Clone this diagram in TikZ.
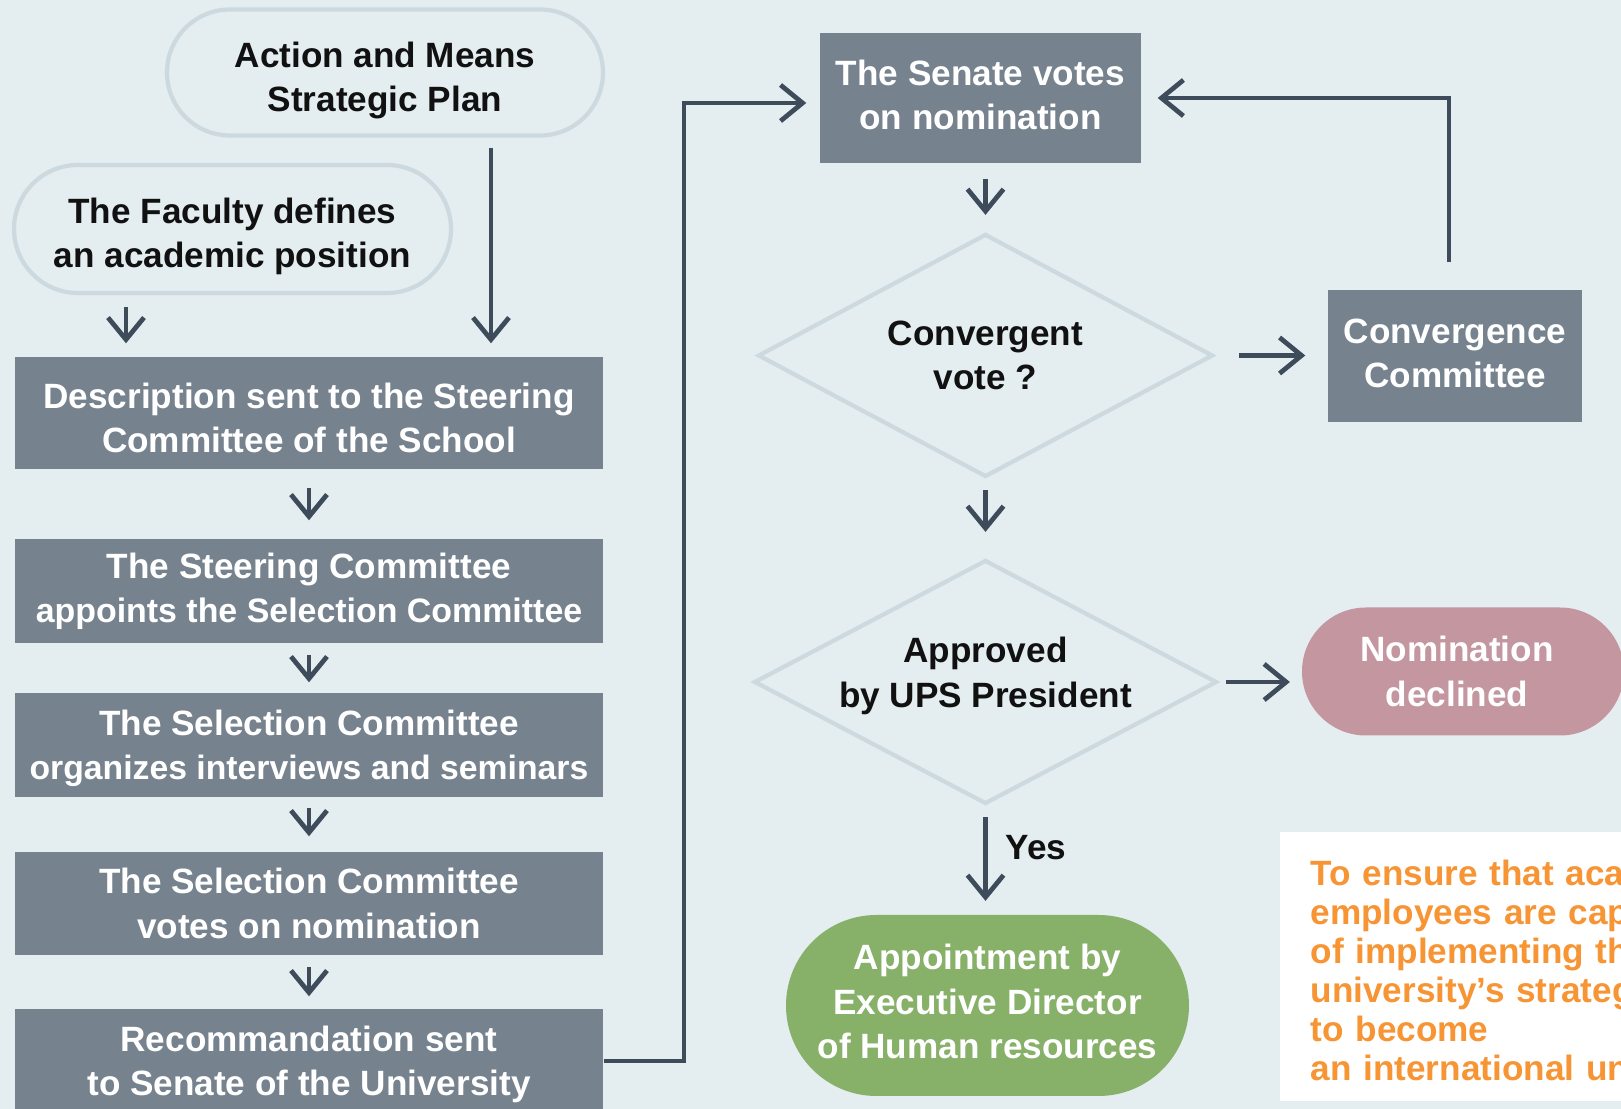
\documentclass[tikz,border=0pt]{standalone}
\usepackage{fontspec}
\setmainfont{Liberation Sans}
\usetikzlibrary{arrows.meta,shapes.geometric,shapes.misc}
\definecolor{bgc}{HTML}{E4EDF0}
\definecolor{boxc}{HTML}{76828E}
\definecolor{edgec}{HTML}{CCDAE0}
\definecolor{arrc}{HTML}{3E4B5B}
\definecolor{inkc}{HTML}{111111}
\definecolor{pinkc}{HTML}{C496A0}
\definecolor{greenc}{HTML}{87B069}
\definecolor{orangec}{HTML}{F79433}

\begin{document}
\begin{tikzpicture}[
        every node/.style={font=\fontsize{10}{12.6}\selectfont\bfseries, align=center},
        box/.style={fill=boxc, text=white, minimum width=5.88cm, minimum height=1.04cm, inner sep=0pt},
        oval/.style={rounded rectangle, draw=edgec, line width=1.2pt, text=inkc, inner sep=0pt},
        test/.style={diamond, aspect=1.9, draw=edgec, line width=1.2pt, text=inkc, inner sep=0pt, minimum width=4.55cm, minimum height=2.43cm},
        arr/.style={draw=arrc, line width=1.35pt, -{Straight Barb[length=0.22cm, width=0.36cm]}}
    ]
        \path[use as bounding box, fill=bgc] (0,0) rectangle (16.21,-11.09);

        \node[oval, minimum width=4.36cm, minimum height=1.26cm] (plan) at (3.85,-0.725) {\rule{0pt}{11.9pt}Action and Means\\Strategic Plan};
        \node[oval, minimum width=4.37cm, minimum height=1.28cm] (faculty) at (2.325,-2.29) {\rule{0pt}{11.3pt}The Faculty defines\\an academic position};

        \node[box, minimum height=1.12cm] (desc) at (3.09,-4.13) {\rule{0pt}{10.1pt}Description sent to the Steering\\Committee of the School};
        \node[box] (steer) at (3.09,-5.91) {The Steering Committee\\{\fontsize{9.65}{12.6}\selectfont appoints the Selection Committee}};
        \node[box] (orga) at (3.09,-7.45) {\rule{0pt}{9pt}The Selection Committee\\{\fontsize{9.6}{12.6}\selectfont organizes interviews and seminars}};
        \node[box, minimum height=1.03cm] (svote) at (3.09,-9.035) {The Selection Committee\\votes on nomination};
        \node[box] (recom) at (3.09,-10.61) {\rule{0pt}{9pt}Recommandation sent\\to Senate of the University};

        \node[box, minimum width=3.21cm, minimum height=1.30cm] (senate) at (9.805,-0.98) {The Senate votes\\on nomination\rule[-1.76pt]{0pt}{1.76pt}};
        \node[test] (conv) at (9.855,-3.555) {Convergent\\vote ?};
        \node[box, minimum width=2.54cm, minimum height=1.32cm] (ccom) at (14.55,-3.56) {Convergence\\Committee\rule[-1.76pt]{0pt}{1.76pt}};
        \node[test, minimum height=2.44cm] (pres) at (9.855,-6.82) {Approved\\by UPS President\rule[-5.6pt]{0pt}{5.6pt}};
        \node[oval, draw=none, fill=pinkc, text=white, minimum width=3.22cm, minimum height=1.28cm] (decl) at (14.63,-6.715) {Nomination\rule{0.12cm}{0pt}\\declined\rule{0.12cm}{0pt}};
        \node[oval, draw=none, fill=greenc, text=white, minimum width=4.03cm, minimum height=1.81cm] (appt) at (9.875,-10.055) {Appointment by\\Executive Director\\of Human resources\rule[-2.35pt]{0pt}{2.35pt}};

        \node[fill=white, text=orangec, anchor=west, align=left, text width=4.6cm, inner xsep=0.31cm, minimum height=2.69cm, font=\fontsize{10}{11.1}\selectfont\bfseries] (goal) at (12.79,-9.665) {\rule{0pt}{11.6pt}To ensure that academic\\employees are capable\\of implementing the\\university’s strategy\\to become\\an international university};

        \draw[arr, shorten <=0.12cm, shorten >=0.13cm] ([xshift=-1.065cm]faculty.south) -- ([xshift=-1.065cm]faculty.south |- desc.north);
        \draw[arr, shorten <=0.1cm, shorten >=0.13cm] ([xshift=1.06cm]plan.south) -- ([xshift=1.06cm]plan.south |- desc.north);
        \foreach \a/\b/\s/\t in {desc/steer/0.18/0.18, steer/orga/0.11/0.10, orga/svote/0.10/0.15, svote/recom/0.11/0.12}
            \draw[arr, shorten <=\s cm, shorten >=\t cm] (\a) -- (\b);

        \coordinate (up) at (6.84,-1.03);
        \draw[arr, shorten >=0.13cm] (recom.east) -| (up) -- (up -| senate.west);

        \draw[arr, shorten <=0.15cm, shorten >=0.17cm] (conv.north |- senate.south) -- (conv.north);
        \draw[arr, shorten <=0.24cm, shorten >=0.22cm] (conv.east) -- (conv.east -| ccom.west);
        \draw[arr, shorten >=0.16cm] ([xshift=-0.06cm, yshift=0.27cm]ccom.north) |- (senate.east);
        \draw[arr, shorten <=0.11cm, shorten >=0.26cm] (conv.south) -- (pres.north);
        \draw[arr, shorten <=0.07cm, shorten >=0.10cm] (pres.east) -- (pres.east -| decl.west);
        \draw[arr, shorten <=0.11cm, shorten >=0.12cm] (pres.south) -- node[right, pos=0.39, xshift=0.06cm, text=inkc] (yes) {Yes} (pres.south |- appt.north);
    \end{tikzpicture}
\end{document}
